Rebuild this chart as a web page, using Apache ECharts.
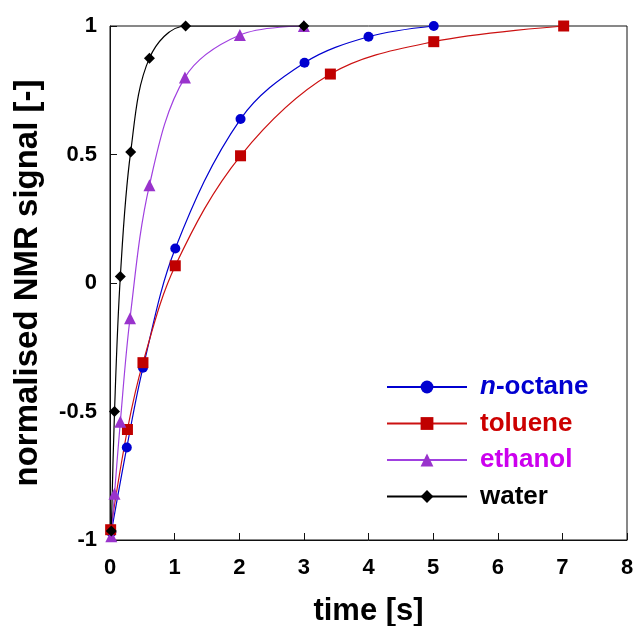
<!DOCTYPE html>
<html>
<head>
<meta charset="utf-8">
<script src="https://cdn.jsdelivr.net/npm/echarts@6/dist/echarts.min.js"></script>
<style>html,body{margin:0;padding:0;background:#fff}#c{width:640px;height:626px}</style>
</head>
<body>
<div id="c"></div>
<script>
var octaneT = [0.02, 0.26, 0.51, 1.01, 2.02, 3.01, 4.0, 5.01];
var octaneY = [-0.97, -0.64, -0.33, 0.134, 0.638, 0.857, 0.958, 1.0];
var tolueneT = [0.01, 0.27, 0.51, 1.01, 2.02, 3.41, 5.01, 7.02];
var tolueneY = [-0.96, -0.57, -0.31, 0.067, 0.495, 0.813, 0.939, 1.0];
var ethanolT = [0.02, 0.07, 0.16, 0.31, 0.61, 1.16, 2.01, 3.0];
var ethanolY = [-0.985, -0.82, -0.54, -0.137, 0.38, 0.80, 0.965, 1.0];
var waterT = [0.02, 0.07, 0.16, 0.32, 0.61, 1.17, 3.0];
var waterY = [-0.965, -0.50, 0.025, 0.51, 0.875, 1.0, 1.0];
var xTicks = [0, 1, 2, 3, 4, 5, 6, 7, 8];
var yTicks = [-1, -0.5, 0, 0.5, 1];

function pairs(t, y) { return t.map(function (v, i) { return [v, y[i]]; }); }

var FONT = 'Liberation Sans, Arial, sans-serif';
var chart = echarts.init(document.getElementById('c'));

function mk(name, t, y, lineColor, markColor, symbol, size) {
  return {
    name: name, type: 'line', data: pairs(t, y),
    smooth: 0.35,
    symbol: symbol, symbolSize: size,
    lineStyle: { color: lineColor, width: 1.2 },
    itemStyle: { color: markColor, borderWidth: 0 },
    emphasis: { disabled: true },
    clip: true, z: 3
  };
}

chart.setOption({
  animation: false,
  backgroundColor: '#fff',
  grid: { left: 110, right: 13, top: 26, bottom: 86, show: true, borderColor: '#111', borderWidth: 1,
    containLabel: false, outerBoundsMode: 'none' },
  xAxis: {
    type: 'value', min: 0, max: 8, interval: 1,
    name: 'time [s]', nameLocation: 'middle', nameGap: 56,
    nameTextStyle: { fontFamily: FONT, fontWeight: 'bold', fontSize: 31, color: '#000' },
    axisLine: { show: true, onZero: false, lineStyle: { color: '#111', width: 1 } },
    axisTick: { show: true, inside: true, length: 7, lineStyle: { color: '#111' } },
    axisLabel: { fontFamily: FONT, fontWeight: 'bold', fontSize: 22, color: '#000', margin: 17,
      formatter: function (v) { return xTicks.indexOf(v) >= 0 ? String(v) : ''; } },
    splitLine: { show: false }
  },
  yAxis: {
    type: 'value', min: -1, max: 1, interval: 0.5,
    name: 'normalised NMR signal [-]', nameLocation: 'middle', nameGap: 66,
    nameTextStyle: { fontFamily: FONT, fontWeight: 'bold', fontSize: 33, color: '#000' },
    axisLine: { show: true, onZero: false, lineStyle: { color: '#111', width: 1 } },
    axisTick: { show: true, inside: true, length: 7, lineStyle: { color: '#111' } },
    axisLabel: { fontFamily: FONT, fontWeight: 'bold', fontSize: 22, color: '#000', margin: 13,
      formatter: function (v) { return yTicks.indexOf(v) >= 0 ? String(v) : ''; } },
    splitLine: { show: false }
  },
  legend: {
    orient: 'vertical', left: 381, top: 369,
    itemWidth: 80, itemHeight: 16, itemGap: 10.5,
    textStyle: { fontFamily: FONT, fontWeight: 'bold', fontSize: 26, padding: [0, 0, 0, 8],
      rich: { i: { fontStyle: 'italic', fontWeight: 'bold', fontSize: 26, fontFamily: FONT, color: '#0000d0' } } },
    data: [
      { name: 'n-octane', textStyle: { color: '#0000d0' } },
      { name: 'toluene', textStyle: { color: '#cc0000' } },
      { name: 'ethanol', textStyle: { color: '#cc00ee' } },
      { name: 'water', textStyle: { color: '#000' } }
    ],
    formatter: function (n) { return n === 'n-octane' ? '{i|n}-octane' : n; }
  },
  series: [
    mk('n-octane', octaneT, octaneY, '#0000d0', '#0000d0', 'circle', 10),
    mk('toluene', tolueneT, tolueneY, '#cc1111', '#c00000', 'rect', 11),
    mk('ethanol', ethanolT, ethanolY, '#a040e0', '#9933cc', 'triangle', 12),
    mk('water', waterT, waterY, '#000', '#000', 'diamond', 11)
  ]
});
</script>
</body>
</html>
